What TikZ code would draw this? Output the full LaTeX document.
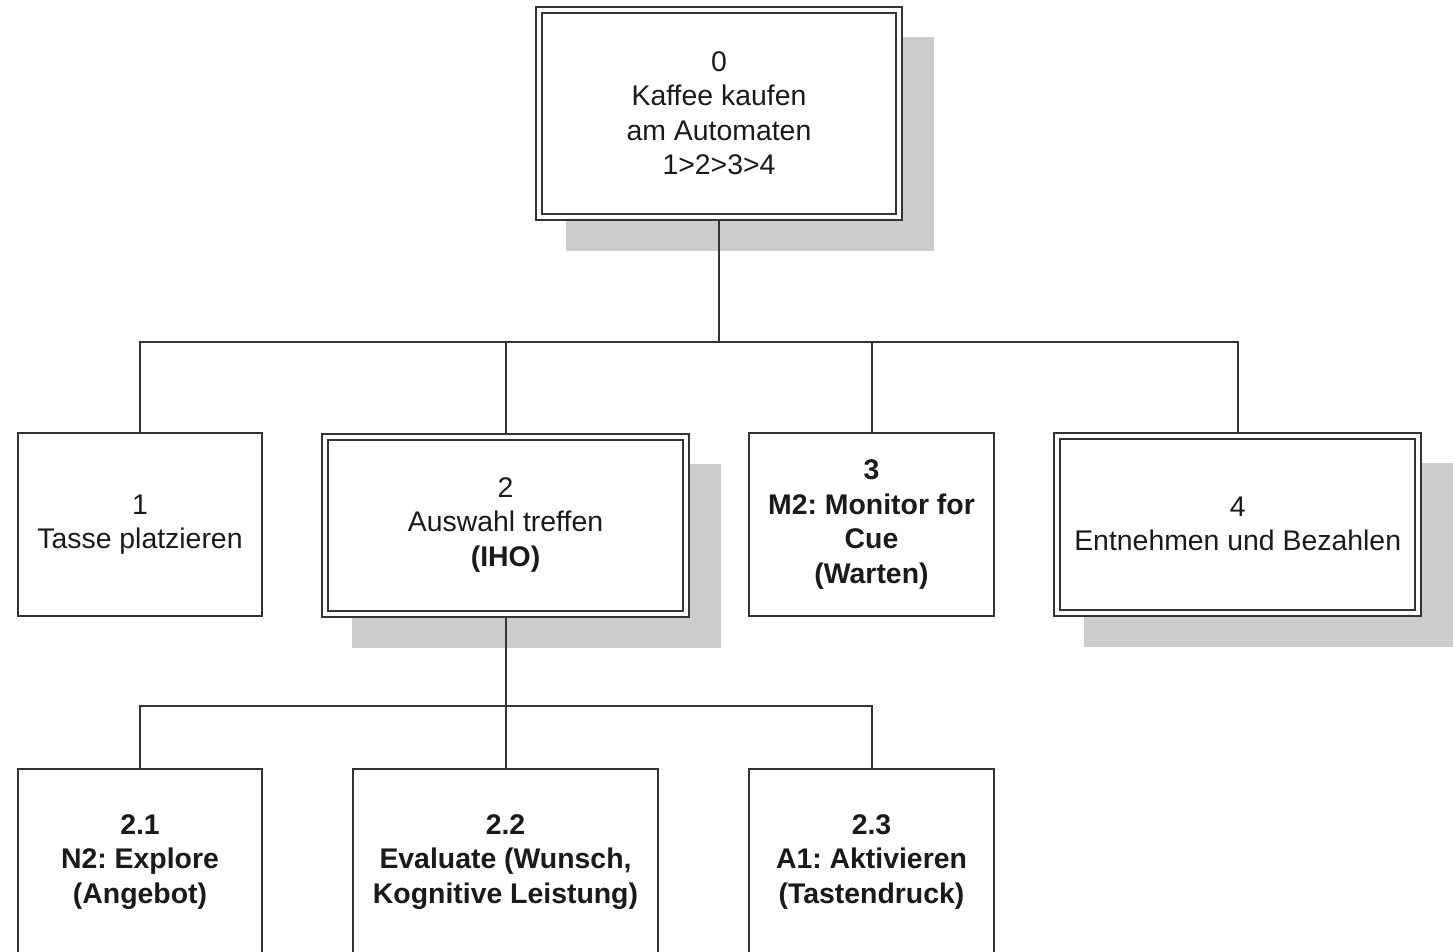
\documentclass[tikz,border=0pt]{standalone}
\usepackage{fontspec}
\setmainfont{Liberation Sans}
\usetikzlibrary{backgrounds}
\definecolor{framegray}{HTML}{333333}
\definecolor{shadowgray}{HTML}{CCCCCC}
\definecolor{inkgray}{HTML}{1A1A1A}
\tikzset{
  x=1pt, y=-1pt,
  taskbox/.style={draw=framegray, line width=2pt, fill=white, text=inkgray,
    align=center, inner sep=0pt,
    font=\fontsize{28.4}{34.5}\selectfont\frenchspacing},
  dbltaskbox/.style={taskbox, double=white, double distance=4pt, outer sep=3pt},
  conn/.style={draw=framegray, line width=2pt},
  shadowbox/.style={fill=shadowgray}
}
\begin{document}
\begin{tikzpicture}
\useasboundingbox (0,0) rectangle (1453,951);

% top level
\node[dbltaskbox, minimum width=360, minimum height=207] (n0) at (719,113)
  {0\\Kaffee kaufen\\am Automaten\\1>2>3>4};

% first level
\node[taskbox, minimum width=244, minimum height=183] (n1) at (140,524.5)
  {1\\Tasse platzieren};
\node[dbltaskbox, minimum width=361, minimum height=177] (n2) at (505.5,525)
  {2\\Auswahl treffen\\\textbf{(IHO)}};
\node[taskbox, minimum width=245, minimum height=183] (n3) at (871.5,524.5)
  {\textbf{3}\\\textbf{M2: Monitor for}\\\textbf{Cue}\\\textbf{(Warten)}};
\node[dbltaskbox, minimum width=361, minimum height=177] (n4) at (1237.7,524)
  {4\\Entnehmen und Bezahlen};

% second level (below task 2)
\node[taskbox, minimum width=244, minimum height=186] (n21) at (140,862)
  {\textbf{2.1}\\\textbf{N2: Explore}\\\textbf{(Angebot)}};
\node[taskbox, minimum width=305, minimum height=186] (n22) at (505.5,862)
  {\textbf{2.2}\\\textbf{Evaluate (Wunsch,}\\\textbf{Kognitive Leistung)}};
\node[taskbox, minimum width=245, minimum height=186] (n23) at (871.5,862)
  {\textbf{2.3}\\\textbf{A1: Aktivieren}\\\textbf{(Tastendruck)}};

% drop shadows of the composite tasks
\begin{scope}[on background layer]
  \foreach \n in {n0,n2,n4}
    \fill[shadowbox] ([shift={(30,30)}]\n.north west) rectangle ([shift={(32,31)}]\n.south east);
\end{scope}

% connectors
\coordinate (bus1) at (719,342);
\coordinate (bus2) at (505.5,706);
\draw[conn] (n0.south) -- (bus1);
\draw[conn] (n1.north) |- (bus1) -| (n4.north);
\draw[conn] (n2.north) -- (n2.north |- bus1);
\draw[conn] (n3.north) -- (n3.north |- bus1);
\draw[conn] (n2.south) -- (bus2);
\draw[conn] (n21.north) |- (bus2) -| (n23.north);
\draw[conn] (n22.north) -- (n22.north |- bus2);
\end{tikzpicture}
\end{document}
